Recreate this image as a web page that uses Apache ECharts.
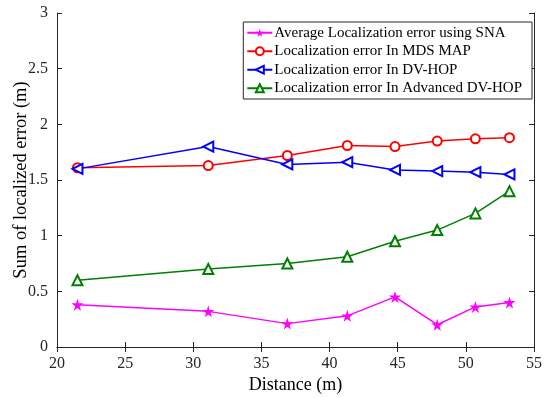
<!DOCTYPE html>
<html><head><meta charset="utf-8">
<script src="https://cdn.jsdelivr.net/npm/echarts@6/dist/echarts.min.js"></script>
<style>html,body{margin:0;padding:0;background:#fff}#c{width:550px;height:398px}</style>
</head><body><div id="c"></div>
<script>
const distance = [21.5, 31.1, 36.9, 41.3, 44.8, 47.9, 50.7, 53.2];
const snaError = [0.38, 0.32, 0.21, 0.28, 0.45, 0.20, 0.36, 0.40];
const mdsError = [1.61, 1.63, 1.72, 1.81, 1.80, 1.85, 1.87, 1.88];
const dvhopError = [1.60, 1.80, 1.64, 1.66, 1.59, 1.58, 1.57, 1.55];
const advDvhopError = [0.60, 0.70, 0.75, 0.81, 0.95, 1.05, 1.20, 1.40];
const seriesNames = ['Average Localization error using SNA','Localization error In MDS MAP','Localization error In DV-HOP','Localization error In Advanced DV-HOP'];

const font = 'Liberation Serif';
const axisCol = '#262626';
const star = 'path://M50,0 L61,35 L98,35 L68,57 L79,91 L50,70 L21,91 L32,57 L2,35 L39,35 Z';
const pairs = ys => distance.map((x,i)=>[x, ys[i]]);

const baseX = {type:'value', min:20, max:55, interval:5,
  axisLine:{show:true,lineStyle:{color:axisCol,width:1}},
  axisTick:{show:true,inside:true,length:5,lineStyle:{color:axisCol}},
  splitLine:{show:false}};
const baseY = {type:'value', min:0, max:3, interval:0.5,
  axisLine:{show:true,lineStyle:{color:axisCol,width:1}},
  axisTick:{show:true,inside:true,length:5,lineStyle:{color:axisCol}},
  splitLine:{show:false}};

const chart = echarts.init(document.getElementById('c'), null, {renderer:'canvas'});
chart.setOption({
  animation:false,
  backgroundColor:'#fff',
  textStyle:{fontFamily:font},
  grid:{left:57, right:16, top:13, bottom:51, containLabel:false, outerBoundsMode:'none'},
  legend:{
    orient:'vertical', right:18, top:22,
    backgroundColor:'#fff', borderColor:axisCol, borderWidth:1,
    padding:[2,10,2,3], itemGap:1, itemWidth:25, itemHeight:10,
    textStyle:{fontFamily:font, fontSize:15, color:'#000', padding:[0,0,0,-3], lineHeight:17.5},
    data:seriesNames
  },
  xAxis:[
    Object.assign({}, baseX, {position:'bottom',
      name:'Distance (m)', nameLocation:'middle', nameGap:29, nameMoveOverlap:false,
      nameTextStyle:{fontFamily:font, fontSize:18, color:'#000'},
      axisLabel:{fontFamily:font, fontSize:16, color:axisCol, margin:9}}),
    Object.assign({}, baseX, {position:'top', axisLabel:{show:false}})
  ],
  yAxis:[
    Object.assign({}, baseY, {position:'left',
      name:'Sum of localized error (m)', nameLocation:'middle', nameGap:26, nameMoveOverlap:false,
      nameTextStyle:{fontFamily:font, fontSize:18.5, color:'#000'},
      axisLabel:{fontFamily:font, fontSize:16, color:axisCol, margin:9}}),
    Object.assign({}, baseY, {position:'right', axisLabel:{show:false}})
  ],
  series:[
    {name:seriesNames[0], type:'line', data:pairs(snaError), symbol:star, symbolSize:12,
     lineStyle:{color:'#ff00ff', width:1.5}, itemStyle:{color:'#ff00ff'}},
    {name:seriesNames[1], type:'line', data:pairs(mdsError), symbol:'emptyCircle', symbolSize:9,
     lineStyle:{color:'#ff0000', width:1.5}, itemStyle:{color:'#ff0000', borderWidth:1.5}},
    {name:seriesNames[2], type:'line', data:pairs(dvhopError), symbol:'emptyTriangle', symbolSize:10, symbolRotate:90,
     lineStyle:{color:'#0000ff', width:1.5}, itemStyle:{color:'#0000ff', borderWidth:1.5}},
    {name:seriesNames[3], type:'line', data:pairs(advDvhopError), symbol:'emptyTriangle', symbolSize:10,
     lineStyle:{color:'#007f00', width:1.5}, itemStyle:{color:'#007f00', borderWidth:1.5}}
  ]
});
</script></body></html>
